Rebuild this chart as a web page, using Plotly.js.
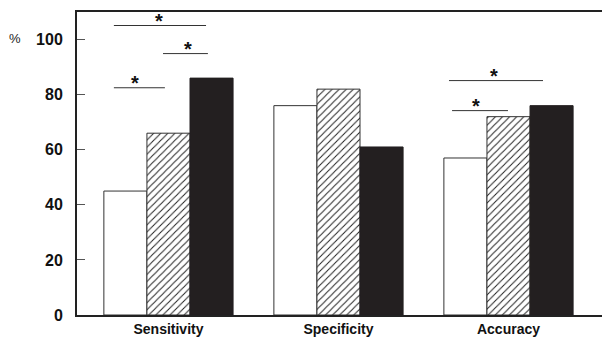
<!DOCTYPE html>
<html>
<head>
<meta charset="utf-8">
<script src="https://cdn.plot.ly/plotly-3.0.1.min.js"></script>
<style>html,body{margin:0;padding:0;background:#fff;}#chart{width:602px;height:338px;}</style>
</head>
<body>
<div id="chart"></div>
<script>
const categories = ["Sensitivity", "Specificity", "Accuracy"];
const seriesA = [45, 76, 57];   // white bars
const seriesB = [66, 82, 72];   // hatched bars
const seriesC = [86, 61, 76];   // black bars
const yTicks = [0, 20, 40, 60, 80, 100];

// significance brackets: [x start (category index), x end, y level, star x]
const sigX0 = [-0.321, -0.032, -0.321, 1.65, 1.668];
const sigX1 = [0.221, 0.232, -0.021, 2.203, 1.997];
const sigY = [105.1, 94.9, 82.5, 85.1, 74.2];
const starX = [-0.056, 0.115, -0.197, 1.915, 1.809];

const font = "Liberation Sans, Arial, Helvetica, sans-serif";

const traces = [
  {type: "bar", x: categories, y: seriesA, name: "A",
   marker: {color: "#ffffff", line: {color: "#333", width: 1}}},
  {type: "bar", x: categories, y: seriesB, name: "B",
   marker: {color: "#ffffff", line: {color: "#333", width: 1},
            pattern: {shape: "/", fgcolor: "#222", bgcolor: "#ffffff", size: 5, solidity: 0.2}}},
  {type: "bar", x: categories, y: seriesC, name: "C",
   marker: {color: "#231f20", line: {color: "#231f20", width: 1}}}
];

const shapes = sigX0.map((x0, i) => ({
  type: "line", xref: "x", yref: "y", x0: x0, x1: sigX1[i], y0: sigY[i], y1: sigY[i],
  line: {color: "#333", width: 1}
}));

const annotations = starX.map((sx, i) => ({
  x: sx, y: sigY[i], xref: "x", yref: "y", text: "*", showarrow: false,
  yanchor: "bottom", yshift: -8, font: {family: font, size: 20, color: "#111", weight: "bold"}
}));
annotations.push({
  xref: "paper", yref: "paper", x: -0.118, y: 0.914, text: "%", showarrow: false,
  xanchor: "center", yanchor: "middle", font: {family: font, size: 13, color: "#222"}
});

const layout = {
  width: 602, height: 338,
  margin: {l: 77, r: 0, t: 12, b: 23},
  paper_bgcolor: "#fff", plot_bgcolor: "#fff",
  showlegend: false,
  barmode: "group", bargap: 0.24, bargroupgap: 0,
  xaxis: {
    type: "category", range: [-0.538, 2.55],
    showline: true, linecolor: "#222", linewidth: 2, mirror: true,
    ticks: "", showgrid: false, zeroline: false,
    tickfont: {family: font, size: 14, color: "#111", weight: "bold"},
    ticklabelstandoff: 0
  },
  yaxis: {
    range: [0, 110], tickvals: yTicks, ticktext: yTicks.map(String),
    showline: true, linecolor: "#222", linewidth: 2,
    ticks: "inside", ticklen: 8, tickcolor: "#555", tickwidth: 1,
    showgrid: false, zeroline: false,
    tickfont: {family: font, size: 16, color: "#111", weight: "bold"},
    ticklabelstandoff: 9
  },
  shapes: shapes,
  annotations: annotations
};

Plotly.newPlot("chart", traces, layout, {staticPlot: true});
</script>
</body>
</html>
